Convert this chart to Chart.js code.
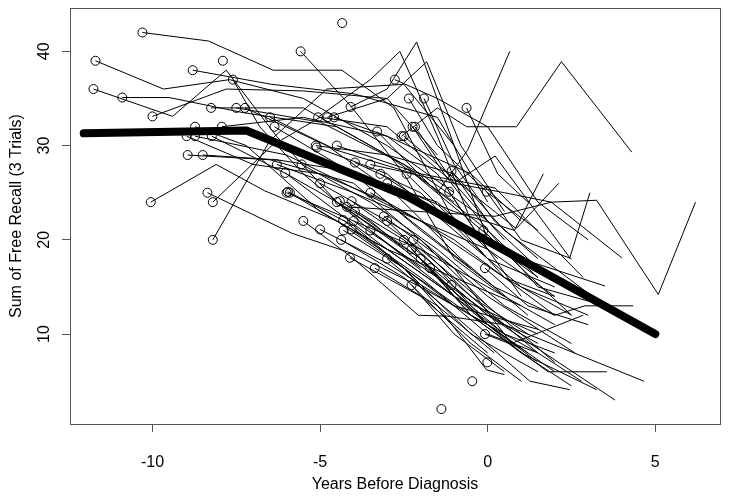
<!DOCTYPE html>
<html>
<head>
<meta charset="utf-8">
<script src="https://cdn.jsdelivr.net/npm/chart.js@4.4.1/dist/chart.umd.min.js"></script>
<style>
  body { margin: 0; background: #fff; }
  #wrap { width: 729px; height: 503px; }
</style>
</head>
<body>
<div id="wrap"><canvas id="recallChart" width="729" height="503"></canvas></div>
<script>
const xTicks = [-10, -5, 0, 5];
const yTicks = [10, 20, 30, 40];

// fitted mean curve (thick line)
const meanYears = [-12.05, -7.2, -2.4, 5.0];
const meanScores = [31.3, 31.6, 24.6, 10.0];

// one entry per subject, first point gets the open circle
const subjectYears = [
  [-10.3, -8.33, -6.4, -4.35, -2.8, -1.0],
  [-11.7, -9.67, -7.7, -5.5, -3, -1],
  [-11.76, -9.4, -7.8, -6.3, -4.5, -2.5],
  [-10.9, -9.5, -7.3, -4.5, -2, 0],
  [-10.0, -7.8, -5.5, -3, -1.5],
  [-10.05, -8.1, -6.65, -4.5, -2.5, -1],
  [-8.8, -6.44, -4, -1.5, 0],
  [-7.9],
  [-7.6, -6.8, -5.5, -3.5, -2],
  [-8.95, -6.5, -4, -2, 0],
  [-8.5, -6.3, -4.5, -1.5, 0.3],
  [-8.73, -7.2, -5, -3, -1],
  [-7.93, -5.5, -3, -0.5, 1],
  [-8.98, -7, -5, -3, -0.5],
  [-8.73, -6, -4, -2, 0],
  [-8.23, -6, -3.5, -1.5, 0.5],
  [-8.25, -5.5, -3, -1],
  [-7.5, -5, -2.5, 0, 1.5],
  [-7.24, -4.8, -2.8, -0.8, 1.2],
  [-6.49, -4.5, -2.2, 0],
  [-6.36, -4, -2, 0.2, 2],
  [-8.36, -5.84, -4, -2, 0],
  [-8.2, -6.44, -5, -3, -1, 0.5],
  [-8.2, -6.5, -4.8, -2.5, -1],
  [-6.29, -4, -2, 0.5, 2.5],
  [-6.04, -4.5, -3, -1, 1],
  [-6.0, -4, -2, 0, 2],
  [-5.9, -4, -2.5, -0.5, 1.5],
  [-4.34],
  [-5.58, -4.06, -2.5, -1, 0.5],
  [-2.77, -1.5, 0, 1.5, 3],
  [-2.35, -1.5, 0, 1.5],
  [-1.9, -1, 0.2, 1.5],
  [-0.63, 0.3, 1.2],
  [-4.09, -3, -2.12, -1, 0, 1.5],
  [-5.06, -3.5, -2.62, -1.5, -0.5],
  [-4.78, -3, -1.82, -0.8, 0.5],
  [-4.58, -3, -1.5, 0, 2],
  [-2.24, -1.3, 0, 1.5, 3.5],
  [-2.17, -1, 0.22, 2.45, 3.05],
  [-2.57, -1.5, -0.63, 0.86, 2.2, 4.3],
  [-5.13, -3, -1, 0.5, 3.5],
  [-3.3, -1.5, -0.6, 0.66],
  [-4.2, -2, 0.22, 1.9, 3.25, 5.09, 6.2],
  [-3.5, -1, 0.5, 1.9, 4.0],
  [-3, -1, 0.8, 1.66],
  [-2.5, -0.5, 0.85, 2.12],
  [-4.5, -2, 0.22, 2.85],
  [-3.5, -1, 2.0, 2.9, 4.34],
  [-3.1, -1, 0.71, 2.85],
  [-2.5, -0.5, 1.8, 3.55],
  [-3, -1, 1.26, 2.45],
  [-4, -1.5, 0.5, 4.66],
  [-4.5, -2, 0, 3.8],
  [-3.5, -1, 1, 3.25],
  [-5, -2, 0, 2.6],
  [-2, 0, 1.46],
  [-3.2, -1, 1, 3.5],
  [-1.38],
  [-0.46],
  [-0.01],
  [-0.08, 1.0],
  [-5.5, -4, -2.07, -1.2, 0.5],
  [-4.3, -2.5, -1.5, -0.03, 0.5],
  [-5.1, -3, -1, 1, 3],
  [-5.55, -3.5, -1.5, 0.5, 2.5],
  [-5.96, -4.5, -3, -1, 1.5],
  [-2.42, -1, 0.5, 2],
  [-1.08, 0, 1.5, 3],
  [-1.15, 0, 1],
  [-0.03, 1, 2.5],
  [-4.41, -2.5, -0.5, 1.5, 2.8],
  [-4.06, -2, 0, 2],
  [-3.96, -2, 0, 2],
  [-4.31, -2.5, -0.5, 1.5],
  [-5.0, -3, -1, 1.5],
  [-3.0, -1.5, 0, 1.2],
  [-4.37, -2.5, -0.5, 1],
  [-4.06, -2, 0, 1.5],
  [-4.11, -2, 0],
  [-3.37, -1.5, 0.2],
  [-2.27, -1, 0.5, 2],
  [-2.22, -0.5, 1.2],
  [-1.72, -0.5, 1, 2.5],
  [-0.13, 1, 2.5],
  [-0.08, 1.2, 3],
  [-2.27, -1, 0.5],
  [-1.08, 0, 1.5],
  [-3.96, -2, 0, 2]
];

const subjectScores = [
  [42, 41.1, 38, 38, 34, 22],
  [39, 36, 37, 35, 30, 25],
  [36, 33.1, 38, 31, 24, 19],
  [35.1, 35.1, 33.5, 32, 27, 22],
  [33.1, 36, 35.8, 35, 29],
  [24, 28, 25.2, 22, 17, 13],
  [38, 36.5, 35.5, 33, 24],
  [39],
  [37, 32, 27, 21, 17],
  [29, 28.5, 26, 20, 13],
  [29, 28.5, 27.5, 24, 18],
  [32, 30, 23, 19, 14],
  [32, 33, 31, 27, 22],
  [31, 28, 27, 24, 17],
  [31, 29, 25.5, 22, 19],
  [31, 27, 22, 16, 10],
  [34, 34, 29, 24],
  [34, 32.5, 28, 21, 16],
  [34, 30, 25, 18, 12],
  [33, 29.5, 27, 20.5],
  [32, 27, 21, 15, 12],
  [25, 20.7, 18.5, 15, 11],
  [24, 30, 33, 32, 26, 20],
  [20, 30.5, 36, 36.5, 30],
  [28, 25, 22, 16, 12],
  [27.1, 23, 19, 16, 13],
  [25, 22, 19, 15, 11],
  [25, 21.5, 17, 12, 8],
  [43],
  [40, 34.1, 27, 18, 14],
  [37, 35, 32, 24, 20],
  [35, 30, 25, 21],
  [35, 28, 22, 18],
  [34, 27, 24],
  [34.1, 36, 41, 30, 20, 16],
  [33, 37, 40, 31, 22],
  [33, 35, 38.9, 30, 23],
  [33, 31, 27, 19, 14],
  [32, 27, 21, 15, 13],
  [32, 26, 28.9, 18.1, 25],
  [31, 34, 32, 32, 38.9, 29.3],
  [30, 29, 27, 21, 13],
  [31.5, 25, 29.5, 40],
  [23.5, 23, 22.5, 24, 24.2, 14.2, 24],
  [28, 26, 25, 24, 18.1],
  [26, 23, 21, 27],
  [31, 25, 21.2, 26],
  [30, 27, 25.5, 16],
  [25, 20, 12, 13, 13],
  [22.5, 17, 9, 12],
  [20, 12, 6, 6],
  [18, 12, 5, 4.1],
  [22, 16, 11, 5],
  [24, 18, 12, 3],
  [21, 14, 8, 4.1],
  [26, 20, 14, 8],
  [18, 11, 7.1],
  [27, 22, 18, 15.1],
  [2.05],
  [5],
  [7],
  [10, 8.5],
  [22, 18, 12, 11.9, 11],
  [21, 17, 13, 6.2, 5.7],
  [29.8, 27, 21, 15, 12],
  [28, 24, 19, 13, 9],
  [25.1, 22, 19, 14, 10],
  [27, 22, 16, 14],
  [27.3, 22, 17, 14],
  [25.1, 19, 14],
  [25.1, 20, 18],
  [24.1, 20, 14, 8, 5],
  [24.1, 19, 13, 7],
  [23, 18, 11, 6],
  [22.1, 17, 10, 6],
  [21.1, 17.5, 13, 10.5],
  [22, 17, 11, 8],
  [20, 16, 9, 5],
  [21.1, 16, 10, 8],
  [18.1, 14, 8],
  [17, 13, 8],
  [19, 14, 10, 8],
  [20, 14, 10],
  [17, 12, 8, 4.5],
  [21, 17, 12],
  [17, 13, 11],
  [15.2, 10, 6],
  [15.2, 12, 9],
  [28.2, 25, 18, 15]
];

const FONT = '"Liberation Sans", Arial, Helvetica, sans-serif';

const datasets = [{
  data: meanYears.map((x, i) => ({ x, y: meanScores[i] })),
  showLine: true,
  borderColor: '#000',
  borderWidth: 8,
  borderCapStyle: 'round',
  borderJoinStyle: 'round',
  pointRadius: 0,
  order: 0
}];

subjectYears.forEach((years, s) => {
  datasets.push({
    data: years.map((x, i) => ({ x, y: subjectScores[s][i] })),
    showLine: true,
    borderColor: '#000',
    borderWidth: 1,
    pointRadius: ctx => (ctx.dataIndex === 0 ? 4.5 : 0),
    pointBorderColor: '#000',
    pointBorderWidth: 1,
    pointBackgroundColor: 'rgba(0,0,0,0)',
    order: 1
  });
});

// R style box + vertical y tick labels
const boxPlugin = {
  id: 'boxPlugin',
  afterDraw(chart) {
    const { ctx, chartArea: a, scales: { y } } = chart;
    ctx.save();
    ctx.strokeStyle = '#555';
    ctx.lineWidth = 1;
    ctx.strokeRect(Math.round(a.left) + 0.5, Math.round(a.top) + 0.5,
      Math.round(a.right - a.left), Math.round(a.bottom - a.top));
    ctx.fillStyle = '#000';
    ctx.font = '16px ' + FONT;
    ctx.textAlign = 'center';
    ctx.textBaseline = 'middle';
    yTicks.forEach(v => {
      ctx.save();
      ctx.translate(45, y.getPixelForValue(v));
      ctx.rotate(-Math.PI / 2);
      ctx.fillText(String(v), 0, 0);
      ctx.restore();
    });
    ctx.restore();
  }
};

new Chart(document.getElementById('recallChart'), {
  type: 'scatter',
  data: { datasets },
  plugins: [boxPlugin],
  options: {
    responsive: false,
    animation: false,
    events: [],
    devicePixelRatio: 1,
    layout: { padding: { top: 8, right: 9, left: 0, bottom: 0 } },
    plugins: { legend: { display: false }, tooltip: { enabled: false } },
    scales: {
      x: {
        type: 'linear',
        min: -12.46,
        max: 6.93,
        afterBuildTicks: s => { s.ticks = xTicks.map(v => ({ value: v })); },
        afterFit: s => { s.height = 79; },
        border: { display: false },
        grid: { drawOnChartArea: false, color: '#555', tickLength: 8 },
        ticks: { color: '#000', padding: 21, font: { family: FONT, size: 16 } },
        title: {
          display: true,
          text: 'Years Before Diagnosis',
          color: '#000',
          font: { family: FONT, size: 16 },
          padding: { top: 0, bottom: 9 }
        }
      },
      y: {
        type: 'linear',
        min: 0.46,
        max: 44.6,
        afterBuildTicks: s => { s.ticks = yTicks.map(v => ({ value: v })); },
        afterFit: s => { s.width = 70; },
        border: { display: false },
        grid: { drawOnChartArea: false, color: '#555', tickLength: 8 },
        ticks: { display: false },
        title: {
          display: true,
          text: 'Sum of Free Recall (3 Trials)',
          color: '#000',
          font: { family: FONT, size: 16 },
          padding: { top: 7, bottom: 0 }
        }
      }
    }
  }
});
</script>
</body>
</html>
